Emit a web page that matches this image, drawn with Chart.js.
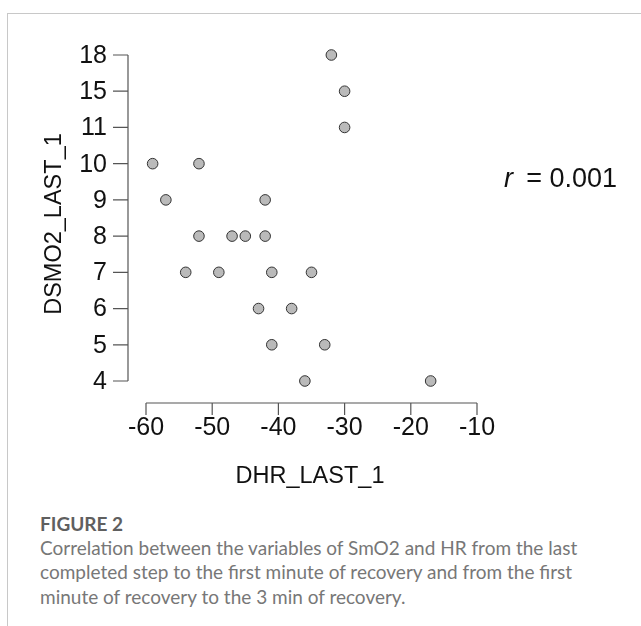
<!DOCTYPE html>
<html lang="en">
<head>
  <meta charset="UTF-8" />
  <title>Figure 2</title>
  <script src="https://cdn.jsdelivr.net/npm/chart.js"></script>
  <style>
    html, body { margin: 0; padding: 0; background: #fff; }
    body { width: 641px; height: 626px; position: relative; overflow: hidden; }
    .frame { position: absolute; left: 7px; top: 13px; right: 0; bottom: 0;
             border-top: 1px solid #c8c8c8; border-left: 1px solid #c8c8c8; }
    #wrap { position: absolute; left: 0; top: 0; width: 641px; height: 500px; }
    .caption { position: absolute; left: 40px; top: 512px; color: #777;
               font-family: Lato, "Open Sans", sans-serif; font-size: 19px; white-space: nowrap; }
    .caption b { display: block; color: #5f5f5f; font-weight: 700; font-size: 19px; line-height: 24px; }
    .caption span { display: block; line-height: 24.3px; }
  </style>
</head>
<body>
  <div class="frame"></div>
  <div id="wrap"><canvas id="scatter"></canvas></div>
  <div class="caption">
    <b>FIGURE 2</b>
    <span>Correlation between the variables of SmO2 and HR from the last</span>
    <span>completed step to the first minute of recovery and from the first</span>
    <span>minute of recovery to the 3 min of recovery.</span>
  </div>

  <script>
    // data
    const yLevels = ['18', '15', '11', '10', '9', '8', '7', '6', '5', '4'];
    const xTicks = [-60, -50, -40, -30, -20, -10];
    const dhr   = [-32, -30, -30, -59, -52, -57, -42, -52, -47, -45, -42, -54, -49, -41, -35, -43, -38, -41, -33, -36, -17];
    const dsmo2 = ['18', '15', '11', '10', '10', '9', '9', '8', '8', '8', '8', '7', '7', '7', '7', '6', '6', '5', '5', '4', '4'];
    const rText = '0.001';

    const points = dhr.map((x, i) => ({ x: x, y: dsmo2[i] }));
    const FAMILY = '"Liberation Sans", Arial, sans-serif';

    // R/JASP style detached axes, drawn with the chart's own scales
    const axesPlugin = {
      id: 'axes',
      afterDraw(chart) {
        const ctx = chart.ctx;
        const xs = chart.scales.x, ys = chart.scales.y;
        ctx.save();
        ctx.strokeStyle = '#555';
        ctx.lineWidth = 1.2;
        ctx.fillStyle = '#111';
        ctx.font = '25px ' + FAMILY;

        // y axis
        const yx = xs.left - 18;
        const yTop = ys.getPixelForValue(0), yBot = ys.getPixelForValue(yLevels.length - 1);
        ctx.beginPath();
        ctx.moveTo(yx, yTop); ctx.lineTo(yx, yBot);
        yLevels.forEach((lab, i) => {
          const py = ys.getPixelForValue(i);
          ctx.moveTo(yx - 15, py); ctx.lineTo(yx, py);
        });
        ctx.stroke();
        ctx.textAlign = 'right';
        ctx.textBaseline = 'middle';
        yLevels.forEach((lab, i) => ctx.fillText(lab, yx - 21, ys.getPixelForValue(i) + 1));

        // x axis
        const xy = ys.bottom + 22;
        ctx.beginPath();
        ctx.moveTo(xs.getPixelForValue(xTicks[0]), xy);
        ctx.lineTo(xs.getPixelForValue(xTicks[xTicks.length - 1]), xy);
        xTicks.forEach(v => {
          const px = xs.getPixelForValue(v);
          ctx.moveTo(px, xy); ctx.lineTo(px, xy + 12);
        });
        ctx.stroke();
        ctx.textAlign = 'center';
        ctx.textBaseline = 'alphabetic';
        xTicks.forEach(v => ctx.fillText(String(v), xs.getPixelForValue(v), xy + 32));

        // axis titles
        ctx.font = '23.5px ' + FAMILY;
        ctx.fillText('DHR_LAST_1', 310, 483);
        ctx.save();
        ctx.translate(61, 224);
        ctx.rotate(-Math.PI / 2);
        ctx.fillText('DSMO2_LAST_1', 0, 0);
        ctx.restore();

        // correlation label
        ctx.font = 'italic 27px ' + FAMILY;
        ctx.textAlign = 'left';
        ctx.fillText('r', 504, 187);
        ctx.font = '27px ' + FAMILY;
        ctx.textAlign = 'right';
        ctx.fillText('= ' + rText, 617, 187);
        ctx.restore();
      }
    };

    new Chart(document.getElementById('scatter'), {
      type: 'scatter',
      data: {
        datasets: [{
          data: points,
          backgroundColor: '#bababa',
          borderColor: '#333',
          borderWidth: 1,
          pointRadius: 5.3,
          pointHoverRadius: 5.3,
          clip: false
        }]
      },
      options: {
        responsive: true,
        maintainAspectRatio: false,
        animation: false,
        layout: { padding: { left: 146, right: 164, top: 55, bottom: 119 } },
        plugins: { legend: { display: false }, tooltip: { enabled: false } },
        scales: {
          x: { type: 'linear', min: xTicks[0], max: xTicks[xTicks.length - 1], display: false },
          y: { type: 'category', labels: yLevels, offset: false, display: false }
        }
      },
      plugins: [axesPlugin]
    });
  </script>
</body>
</html>
